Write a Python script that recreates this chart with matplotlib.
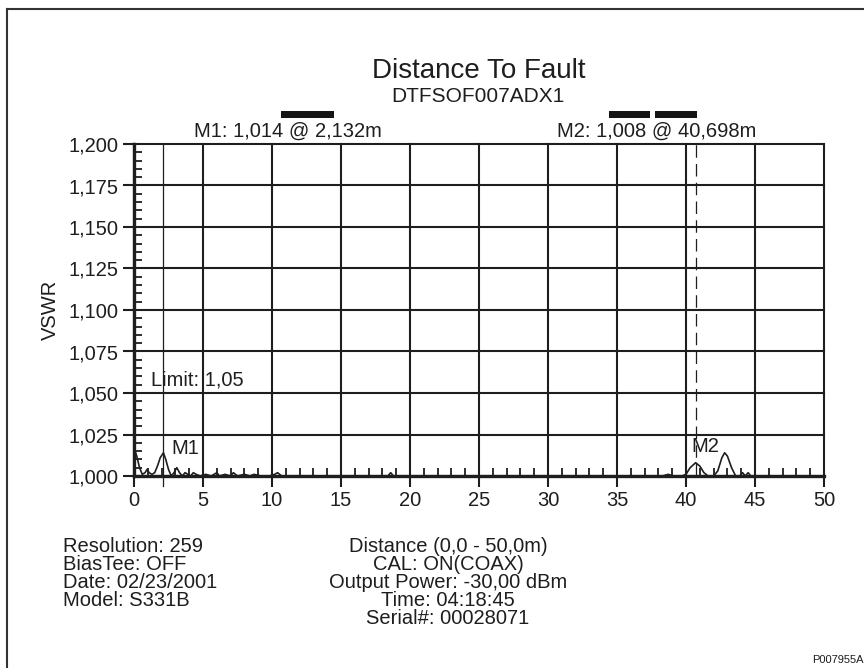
import matplotlib
matplotlib.use("Agg")
import matplotlib.pyplot as plt
import numpy as np
from matplotlib.patches import Rectangle
from matplotlib.lines import Line2D
from matplotlib.ticker import MultipleLocator, FuncFormatter

plt.rcParams['font.family'] = ['Liberation Sans', 'DejaVu Sans']

# Distance-to-fault trace (metres, VSWR)
distance = [0.0, 0.2, 0.4, 0.6, 0.8, 0.95, 1.1, 1.3, 1.5, 1.7, 1.9, 2.132, 2.3, 2.5, 2.7,
            2.9, 3.1, 3.3, 3.5, 3.7, 3.9, 4.1, 4.3, 4.5, 4.8, 5.2, 5.6, 6.0, 6.2, 6.6,
            7.0, 7.2, 7.5, 8.0, 8.4, 8.7, 9.2, 9.8, 10.2, 10.4, 10.7, 11.5, 14.0, 17.0,
            18.4, 18.6, 18.8, 22.0, 26.0, 30.0, 34.0, 38.3, 38.7, 39.1, 39.7, 40.0, 40.3,
            40.698, 41.0, 41.3, 41.6, 42.0, 42.3, 42.6, 42.8, 43.0, 43.3, 43.6, 43.9,
            44.1, 44.3, 44.5, 44.7, 45.0, 47.0, 50.0]
vswr = [1.017, 1.012, 1.005, 1.001, 1.002, 1.004, 1.002, 1.001, 1.002, 1.006, 1.011, 1.014,
        1.010, 1.004, 1.000, 1.002, 1.005, 1.002, 1.000, 1.002, 1.001, 1.000, 1.002, 1.001,
        1.000, 1.001, 1.000, 1.002, 1.000, 1.001, 1.000, 1.002, 1.000, 1.001, 1.000, 1.001,
        1.000, 1.000, 1.001, 1.002, 1.000, 1.000, 1.000, 1.000, 1.000, 1.002, 1.000, 1.000,
        1.000, 1.000, 1.000, 1.000, 1.001, 1.000, 1.000, 1.001, 1.005, 1.008, 1.006, 1.002,
        1.000, 1.000, 1.003, 1.011, 1.014, 1.012, 1.005, 1.000, 1.000, 1.002, 1.000, 1.002,
        1.000, 1.000, 1.000, 1.000]

x_ticks = [0, 5, 10, 15, 20, 25, 30, 35, 40, 45, 50]
y_ticks = [1.000, 1.025, 1.050, 1.075, 1.100, 1.125, 1.150, 1.175, 1.200]

marker_names = ["M1", "M2"]
marker_dist = [2.132, 40.698]
marker_vswr = [1.014, 1.008]
marker_dist_txt = ["2,132", "40,698"]
marker_vswr_txt = ["1,014", "1,008"]
limit_value = 1.05

info_left = ["Resolution: 259", "BiasTee: OFF", "Date: 02/23/2001", "Model: S331B"]
info_center = ["Distance (0,0 - 50,0m)", "CAL: ON(COAX)", "Output Power: -30,00 dBm",
               "Time: 04:18:45", "Serial#: 00028071"]

ink = "#1e1e1e"
W, H = 864, 668
fig = plt.figure(figsize=(W / 100, H / 100), dpi=100)
fig.patch.set_facecolor("white")

def fx(px):
    return px / W

def fy(py):
    return 1 - py / H

ax = fig.add_axes([fx(134), fy(476), fx(824) - fx(134), fy(144) - fy(476)])
ax.set_xlim(0, 50)
ax.set_ylim(1.0, 1.2)

ax.xaxis.set_major_locator(plt.FixedLocator(x_ticks))
ax.yaxis.set_major_locator(plt.FixedLocator(y_ticks))
ax.xaxis.set_minor_locator(MultipleLocator(1))
ax.yaxis.set_minor_locator(MultipleLocator(0.005))
ax.yaxis.set_major_formatter(FuncFormatter(lambda v, p: f"{v:.3f}".replace(".", ",")))
ax.xaxis.set_major_formatter(FuncFormatter(lambda v, p: f"{v:g}"))

ax.grid(True, which="major", color=ink, lw=1.5)
for gl in ax.get_xgridlines() + ax.get_ygridlines():
    gl.set_clip_on(False)

for s in ["top", "right"]:
    ax.spines[s].set_visible(False)
for s in ["left", "bottom"]:
    ax.spines[s].set_linewidth(2.4)
    ax.spines[s].set_color(ink)
    ax.spines[s].set_zorder(5)

ax.tick_params(axis="both", which="major", direction="out", length=8, width=1.5,
               color=ink, labelsize=14.5, labelcolor=ink, pad=3)
ax.tick_params(axis="both", which="minor", direction="in", length=6, width=1.3, color=ink)

ax.plot(distance, vswr, color=ink, lw=1.2, zorder=4, clip_on=False)

# marker lines: M1 solid, M2 dashed; both run slightly below the axis
ax.plot([marker_dist[0]] * 2, [-0.03, 1.0], color=ink, lw=0.9,
        transform=ax.get_xaxis_transform(), clip_on=False, zorder=3)
ax.plot([marker_dist[1]] * 2, [0.0, 1.0], color=ink, lw=0.9, dashes=(10, 5),
        transform=ax.get_xaxis_transform(), clip_on=False, zorder=3)

ax.text(marker_dist[0] + 0.6, 1.0165, marker_names[0], fontsize=14.5, color=ink,
        ha="left", va="center")
ax.text(marker_dist[1] - 0.3, 1.0175, marker_names[1], fontsize=14.5, color=ink,
        ha="left", va="center")
ax.text(1.2, limit_value + 0.002, f"Limit: {limit_value:.2f}".replace(".", ","),
        fontsize=14.5, color=ink, ha="left", va="bottom")

ax.set_ylabel("VSWR", fontsize=14.5, color=ink, labelpad=6)

# headings
fig.text(fx(479), fy(71), "Distance To Fault", fontsize=20, color=ink, ha="center", va="center")
fig.text(fx(478), fy(96), "DTFSOF007ADX1", fontsize=15, color=ink, ha="center", va="center")
fig.text(fx(194), fy(131),
         f"{marker_names[0]}: {marker_vswr_txt[0]} @ {marker_dist_txt[0]}m",
         fontsize=14.5, color=ink, ha="left", va="center")
fig.text(fx(557), fy(131),
         f"{marker_names[1]}: {marker_vswr_txt[1]} @ {marker_dist_txt[1]}m",
         fontsize=14.5, color=ink, ha="left", va="center")

# dark bars above the marker readouts
for x0, x1 in [(281, 334), (609, 650), (655, 697)]:
    fig.patches.append(Rectangle((fx(x0), fy(118)), fx(x1) - fx(x0), fy(111) - fy(118),
                                 transform=fig.transFigure, color="#151515", lw=0))

# instrument settings
for i, t in enumerate(info_left):
    fig.text(fx(63), fy(547 + 18 * i), t, fontsize=14.5, color=ink, ha="left", va="center")
for i, t in enumerate(info_center):
    fig.text(fx(448), fy(547 + 18 * i), t, fontsize=14.5, color=ink, ha="center", va="center")

fig.text(fx(812), fy(660), "P007955A", fontsize=8, color=ink, ha="left", va="center")

# page frame
fig.lines.append(Line2D([fx(7), fx(7)], [0, fy(9)], transform=fig.transFigure,
                        color="#333333", lw=1.5))
fig.lines.append(Line2D([fx(7), 1.0], [fy(9), fy(9)], transform=fig.transFigure,
                        color="#333333", lw=1.5))

fig.savefig("out.png", dpi=100, facecolor="white")
